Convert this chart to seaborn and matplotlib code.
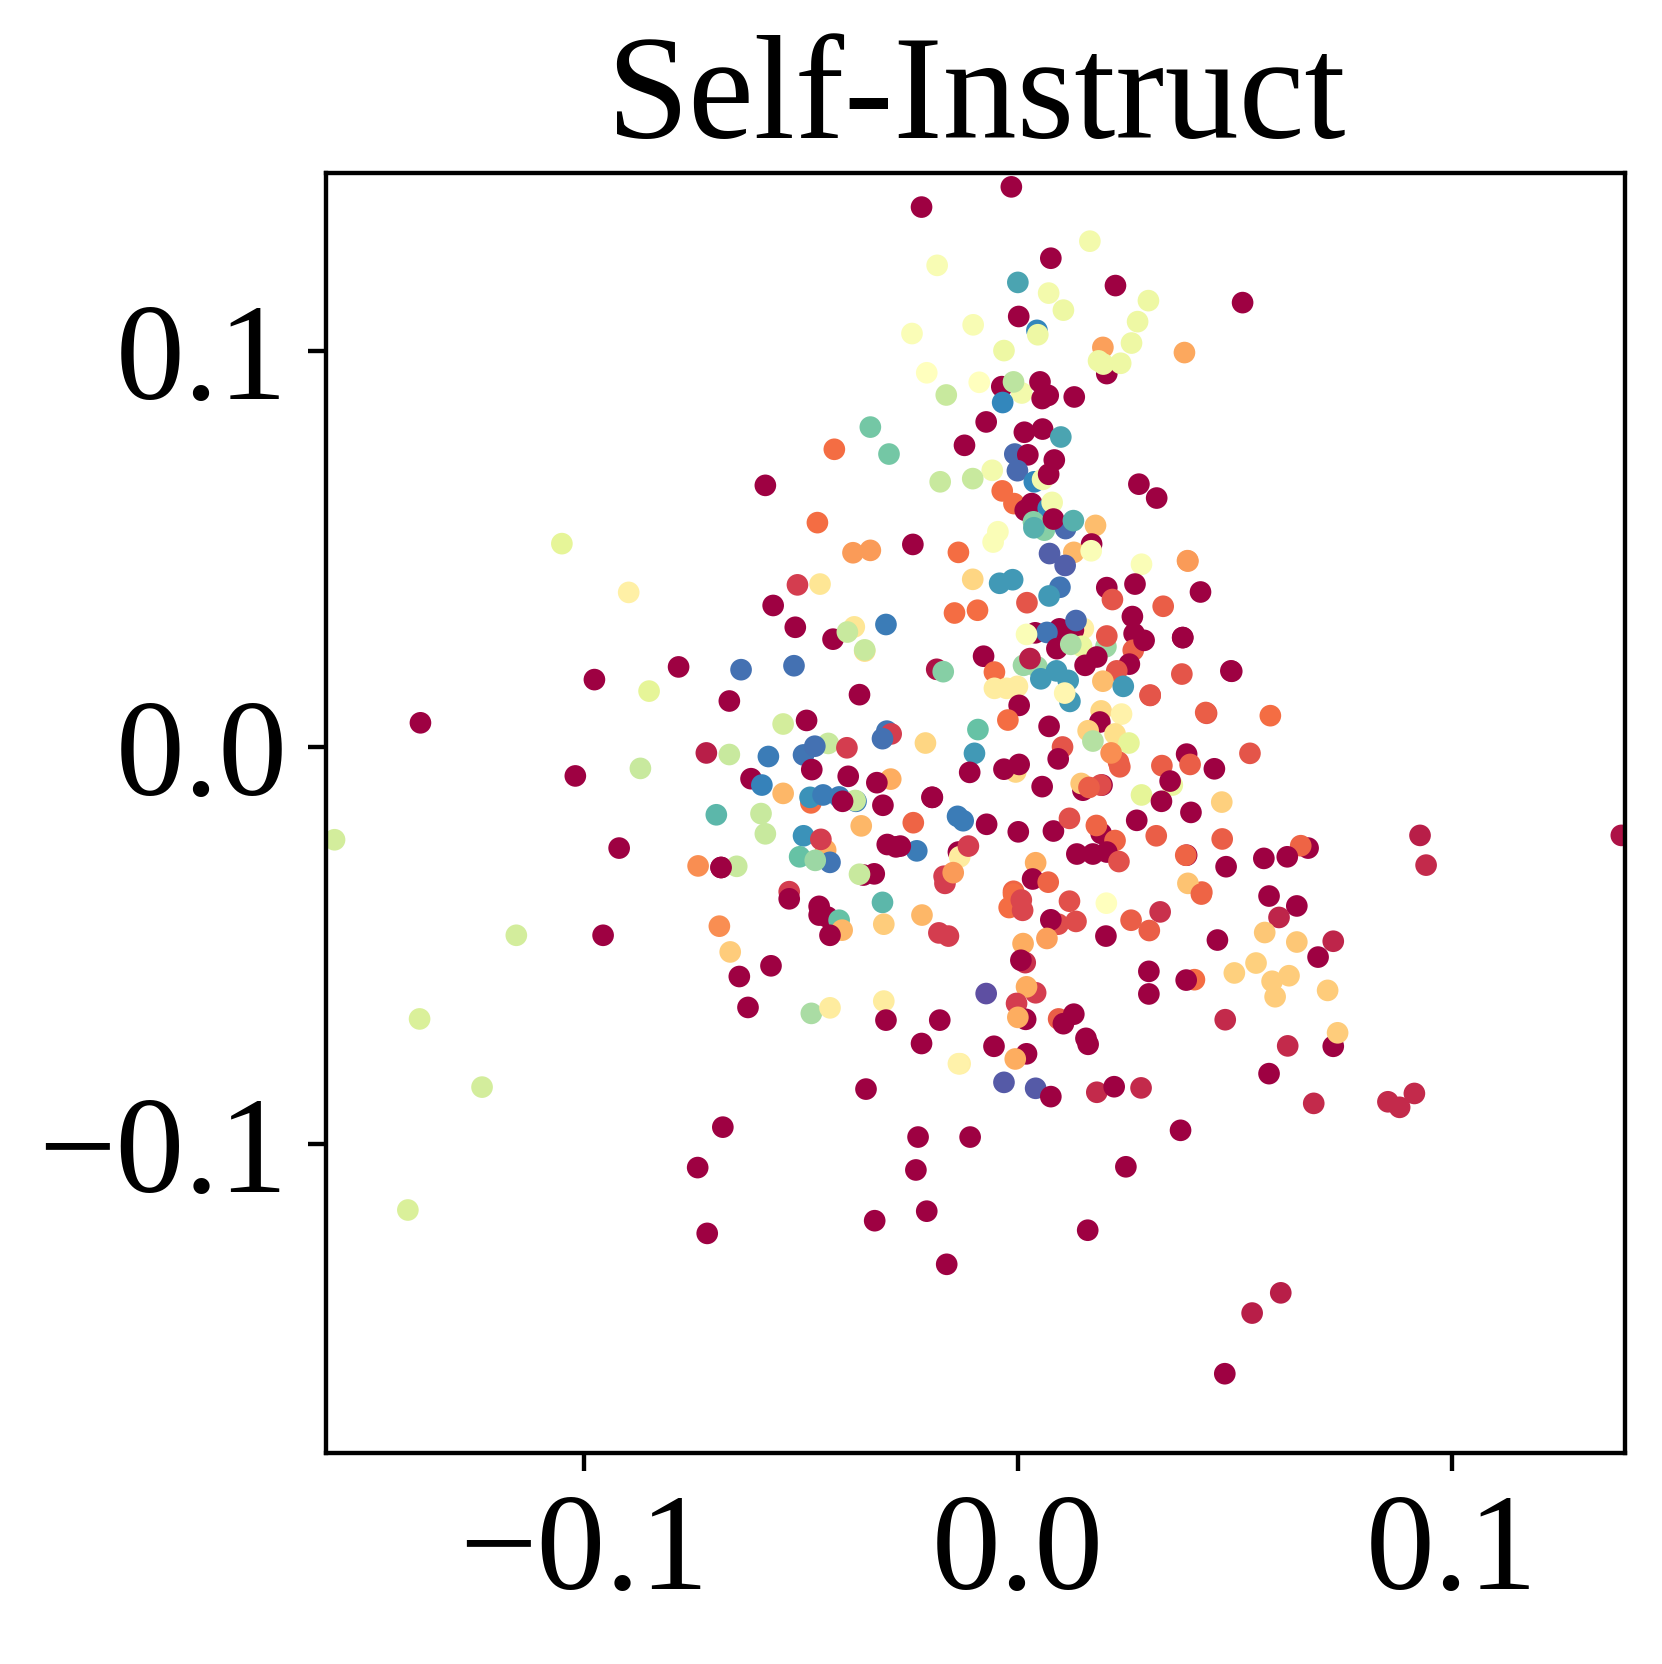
import matplotlib
matplotlib.use('Agg')
import matplotlib.pyplot as plt
import seaborn as sns
import pandas as pd

# upper middle of the cloud
upper_x = [-.0210,-.0165,-.0089,-.0037,.0009,-.0010,-.0035,.0051,.0070,.0056,.0130,-.0073,.0015,.0057,.0099,-.0123,
           -.0340,-.0297,-.0423,-.0582,-.0007,.0023,-.0001,.0084,-.0059,-.0104,-.0179,.0038,.0057,.0071,-.0036,-.0009,
           .0279,.0032,.0017,.0070,.0079,-.0462,.0061,.0110,.0036,.0037,.0082,.0128,.0179,-.0046,-.0057,-.0380,
           -.0340,-.0242,-.0137,.0170,.0129,.0169,.0073,.0109,.0285,-.0508,-.0456,-.0104,-.0042,-.0012,.0097,.0072,
           .0205,.0270,.0218,-.0564,.0021,-.0146,-.0093,-.0513,-.0426,-.0377,-.0393,-.0304,.0151,.0096,.0128,.0134,
           .0264,.0040,.0067,.0020,.0268,.0266,.0291,.0203,.0205,.0147,.0090,.0122,-.0353,-.0353,-.0638,-.0516,
           -.0079,.0182,.0155,-.0187,-.0172,.0013,.0044,.0028,-.0054,.0257,.0228,.0089,.0053,.0116,.0196,.0243,
           -.0054,-.0026,-.0001,-.0665,-.0365,.0120,.0108,.0305,.0003,.0192,.0239,-.0023,-.0541,-.0487,.0072,-.0092]
upper_y = [.0945,.0889,.0921,.0910,.0894,.0922,.0870,.0922,.0888,.0880,.0884,.0821,.0795,.0803,.0783,.0762,
           .0808,.0740,.0752,.0661,.0740,.0738,.0698,.0725,.0699,.0678,.0670,.0670,.0676,.0689,.0647,.0615,
           .0664,.0615,.0598,.0603,.0618,.0567,.0548,.0552,.0569,.0554,.0576,.0572,.0560,.0544,.0518,.0491,
           .0497,.0512,.0492,.0513,.0492,.0496,.0489,.0459,.0462,.0410,.0412,.0424,.0414,.0423,.0404,.0382,
           .0403,.0412,.0373,.0358,.0365,.0339,.0346,.0303,.0273,.0304,.0291,.0310,.0300,.0299,.0296,.0320,
           .0330,.0289,.0290,.0285,.0287,.0245,.0270,.0254,.0281,.0255,.0249,.0260,.0243,.0246,.0196,.0206,
           .0230,.0228,.0207,.0197,.0191,.0207,.0203,.0224,.0190,.0210,.0193,.0193,.0173,.0169,.0167,.0154,
           .0149,.0149,.0154,.0117,.0133,.0116,.0137,.0132,.0106,.0092,.0084,.0069,.0059,.0068,.0053,.0045]
upper_c = [.5,.65,.5,0,.55,.67,.9,0,0,0,0,0,0,0,.85,0,
           .78,.78,.2,0,.95,0,.95,0,.55,.65,.65,.9,.55,0,.2,.2,
           0,0,0,.9,.55,.2,.75,.95,.75,.83,0,.83,.33,.52,.52,.27,
           .27,0,.2,0,.32,.52,.97,.97,.52,.1,.42,.38,.87,.87,.93,.87,
           0,0,.15,0,.15,.2,.2,0,0,.42,.65,.92,.45,0,0,.95,
           0,0,.93,.52,0,.17,0,.72,.15,.58,0,.7,.4,.65,.94,.94,
           0,0,0,.03,.75,.72,.72,.05,.2,0,.15,.87,.87,.87,.33,.87,
           .44,.44,.44,0,0,.87,.47,.15,0,.38,.46,.2,.63,0,0,.8]

# top of the plot
top_x = [-.0015,-.0222,.0166,.0076,-.0186,.0000,.0225,.0071,.0301,.0518,.0105,.0002,-.0103,.0276,-.0244,.0044,
         .0046,.0262,.0196,-.0032,.0384,.0205,.0186,.0237,.0197,.0320,.0391,.0335,.0380,.0491,.0392,.0421]
top_y = [.1414,.1363,.1277,.1234,.1216,.1173,.1165,.1146,.1127,.1122,.1103,.1087,.1066,.1074,.1044,.1052,
         .1041,.1020,.1009,.1001,.0996,.0943,.0975,.0969,.0967,.0629,.0471,.0356,.0277,.0193,.0470,.0392]
top_c = [0,0,.55,0,.53,.85,0,.55,.57,0,.57,0,.53,.57,.52,.9,
         .57,.57,.28,.57,.29,0,.57,.57,.57,0,.28,.17,0,0,.27,0]

# around the origin, right side
mid_x = [.0380,.0493,.0378,.0305,.0435,.0535,.0582,.0433,.0189,.0162,.0173,.0224,.0256,.0232,.0235,.0215,
         .0103,.0093,-.0213,-.0100,-.0111,-.0005,-.0032,.0003,.0056,.0150,.0194,.0191,.0146,.0164,.0332,.0389,
         .0397,.0453,.0356,.0351,.0285,.0331,.0470,.0399,.0274,.0319,.0471,-.0198,-.0139,-.0126,-.0241,-.0072,
         .0001,.0082,.0119,.0192,.0181,.0224,.0136,.0173,.0205,.0233,.0389,.0387,.0480,-.0233,-.0271,-.0137,
         -.0134,-.0114,-.0170,-.0168,-.0149,.0041,.0034,.0070,-.0010,.0424]
mid_y = [.0277,.0192,.0185,.0131,.0086,-.0015,.0080,.0088,.0064,.0042,.0016,.0034,.0011,-.0037,-.0049,-.0014,
         .0001,-.0029,.0011,-.0015,-.0063,-.0062,-.0055,-.0043,-.0099,-.0108,-.0095,-.0095,-.0091,-.0101,-.0046,-.0017,
         -.0043,-.0054,-.0095,-.0085,-.0120,-.0136,-.0138,-.0164,-.0184,-.0223,-.0231,-.0126,-.0174,-.0185,-.0190,-.0194,
         -.0213,-.0211,-.0179,-.0217,-.0197,-.0235,-.0269,-.0269,-.0264,-.0288,-.0272,-.0272,-.0301,-.0261,-.0249,-.0264,
         -.0276,-.0249,-.0325,-.0343,-.0316,-.0291,-.0332,-.0340,-.0363,-.0365]
mid_c = [0,0,.15,.15,.15,.15,.2,.17,0,.37,.68,.4,.6,.17,.17,.25,
         .15,0,.38,.87,0,.38,0,0,0,0,0,.13,.35,.17,.17,0,
         .17,0,.58,0,.6,0,.37,0,0,.17,.17,0,.92,.92,.18,0,
         0,0,.14,0,.18,.18,0,0,0,.14,0,.18,0,.92,0,0,
         .44,.1,.1,.1,.27,.3,0,.18,.18,.18]

# lower right
low_right_x = [.0669,.0652,.0567,.0621,.0579,.0643,.0602,.0569,.0643,.0727,.0692,.0392,.0423,.0460,.0328,.0261,
               .0303,.0203,.0204,.0119,.0134,.0093,.0076,.0067,-.0010,-.0020,.0008,.0011,.0012,.0017,.0007,.0302,
               .0302,.0407,.0388,.0499,.0549,.0586,.0625,.0593,.0714,.0478,.0727,.0737,.0622,.0579,.0682,.0375,
               -.0073,.0041,.0020,-.0003,.0018,.0000,.0094,.0129,.0105,.0157,.0162,-.0055,.0020,-.0006,-.0133,-.0032,
               .0041,.0076,.0182,.0222,.0284]
low_right_y = [-.0254,-.0248,-.0280,-.0276,-.0375,-.0400,-.0429,-.0467,-.0491,-.0489,-.0529,-.0343,-.0370,-.0486,-.0415,-.0436,
               -.0462,-.0476,-.0393,-.0388,-.0439,-.0446,-.0435,-.0482,-.0370,-.0404,-.0385,-.0411,-.0495,-.0543,-.0537,-.0565,
               -.0622,-.0586,-.0587,-.0569,-.0544,-.0590,-.0576,-.0629,-.0613,-.0687,-.0754,-.0720,-.0753,-.0823,-.0898,-.0966,
               -.0621,-.0619,-.0604,-.0646,-.0686,-.0681,-.0685,-.0673,-.0697,-.0734,-.0749,-.0754,-.0773,-.0786,-.0798,-.0845,
               -.0860,-.0881,-.0870,-.0856,-.0859]
low_right_c = [0,.18,0,0,0,0,.06,.35,.35,.06,0,.34,.18,0,.08,.17,
               .17,0,.5,.14,.13,.13,0,.28,.2,.2,.12,.12,.3,.08,0,0,
               0,.2,0,.37,.37,.36,.36,.36,.36,.07,0,.36,.07,0,.07,0,
               1,.1,.3,.1,0,.3,.17,0,0,0,0,0,0,.3,.45,.98,
               .98,0,.07,0,.07]

# lower left
low_left_x = [-.0718,-.0665,-.0575,-.0494,-.0437,-.0468,-.0394,-.0302,-.0292,-.0312,-.0475,-.0391,-.0293,-.0325,-.0615,-.0590,
              -.0541,-.0477,-.0479,-.0449,-.0412,-.0373,-.0375,-.0404,-.0311,-.0197,-.0695,-.0592,-.0582,-.0361,-.0494,-.0443,
              -.0454,-.0503,-.0433,-.0467,-.0737,-.0684,-.0648,-.0684,-.0301,-.0281,-.0331,-.0356,-.0365,-.0527,-.0527,-.0458,
              -.0458,-.0439,-.0412,-.0405,-.0433,-.0312,-.0309,-.0221,-.0182,-.0160,-.0688,-.0663,-.0569,-.0642,-.0622,-.0476,
              -.0433,-.0309,-.0304,-.0180,-.0222,-.0137]
low_left_y = [-.0014,-.0018,-.0023,-.0019,.0010,.0003,-.0001,.0041,.0034,.0022,-.0056,-.0073,-.0080,-.0089,-.0079,-.0095,
              -.0116,-.0140,-.0126,-.0120,-.0125,-.0136,-.0134,-.0136,-.0146,-.0126,-.0170,-.0167,-.0218,-.0198,-.0223,-.0259,
              -.0232,-.0276,-.0290,-.0285,-.0299,-.0303,-.0300,-.0303,-.0245,-.0251,-.0319,-.0322,-.0320,-.0364,-.0382,-.0401,
              -.0423,-.0428,-.0436,-.0461,-.0474,-.0391,-.0446,-.0423,-.0468,-.0476,-.0451,-.0516,-.0551,-.0578,-.0656,-.0671,
              -.0657,-.0640,-.0688,-.0688,-.0747,-.0798]
low_left_c = [.05,.65,.92,.93,.65,.94,.1,.93,.1,.94,0,0,.3,0,0,.91,
              .32,.2,.88,.92,.92,.92,.65,0,0,0,.82,.65,.65,.32,.88,.3,
              .1,.8,.93,.72,.25,0,.65,0,0,0,0,0,.65,.1,0,0,
              0,0,.8,.32,0,.82,.36,.32,.1,.1,.25,.36,0,0,0,.7,
              .44,.44,0,0,0,.46]

# outliers around the edge
outer_x = [-.1051,-.0897,-.0782,-.0976,-.0850,-.1377,-.1020,-.0870,-.0919,-.1575,-.1156,-.0956,-.1379,-.1235,-.1406,-.0680,
           -.0738,-.0716,-.0350,-.0230,-.0110,-.0235,-.0210,-.0330,-.0164,.0161,.0249,.0606,.0540,.0477,.0853,.0880,
           .0914,.0927,.0941,.1391]
outer_y = [.0514,.0391,.0203,.0171,.0142,.0062,-.0072,-.0053,-.0254,-.0233,-.0474,-.0474,-.0685,-.0857,-.1167,-.0958,
           -.1060,-.1226,-.0862,-.0983,-.0983,-.1066,-.1170,-.1194,-.1304,-.1218,-.1058,-.1376,-.1427,-.1580,-.0894,-.0908,
           -.0873,-.0222,-.0297,-.0222]
outer_c = [.6,.45,0,0,.6,0,0,.65,0,.63,.63,0,.62,.63,.62,0,
           0,0,0,0,0,0,0,0,0,0,0,.05,.05,0,.07,.07,
           .07,.05,.07,.03]

df = pd.DataFrame({
    'x': upper_x + top_x + mid_x + low_right_x + low_left_x + outer_x,
    'y': upper_y + top_y + mid_y + low_right_y + low_left_y + outer_y,
    'c': upper_c + top_c + mid_c + low_right_c + low_left_c + outer_c,
})

plt.rcParams['font.family'] = ['Liberation Serif', 'DejaVu Serif']

fig = plt.figure(figsize=(5.54, 5.5467), dpi=300)
ax = fig.add_axes([326.3 / 1662, 1 - 1453 / 1664, 1298.5 / 1662, 1280 / 1664])
sns.scatterplot(data=df, x='x', y='y', hue='c', palette='Spectral', hue_norm=(0, 1),
                s=27, linewidth=0, legend=False, ax=ax)
ax.set_xlim(-0.1594, 0.1399)
ax.set_ylim(-0.178, 0.1449)
ax.set_xticks([-0.1, 0.0, 0.1])
ax.set_yticks([-0.1, 0.0, 0.1])
ax.tick_params(labelsize=33, length=4.3, width=1.05)
ax.tick_params(axis='x', pad=5.3)
ax.tick_params(axis='y', pad=5)
for spine in ax.spines.values():
    spine.set_linewidth(1.05)
ax.set_xlabel('')
ax.set_ylabel('')
ax.set_title('Self-Instruct', fontsize=35.5, pad=8.5)
fig.savefig('out.png', dpi=300)
